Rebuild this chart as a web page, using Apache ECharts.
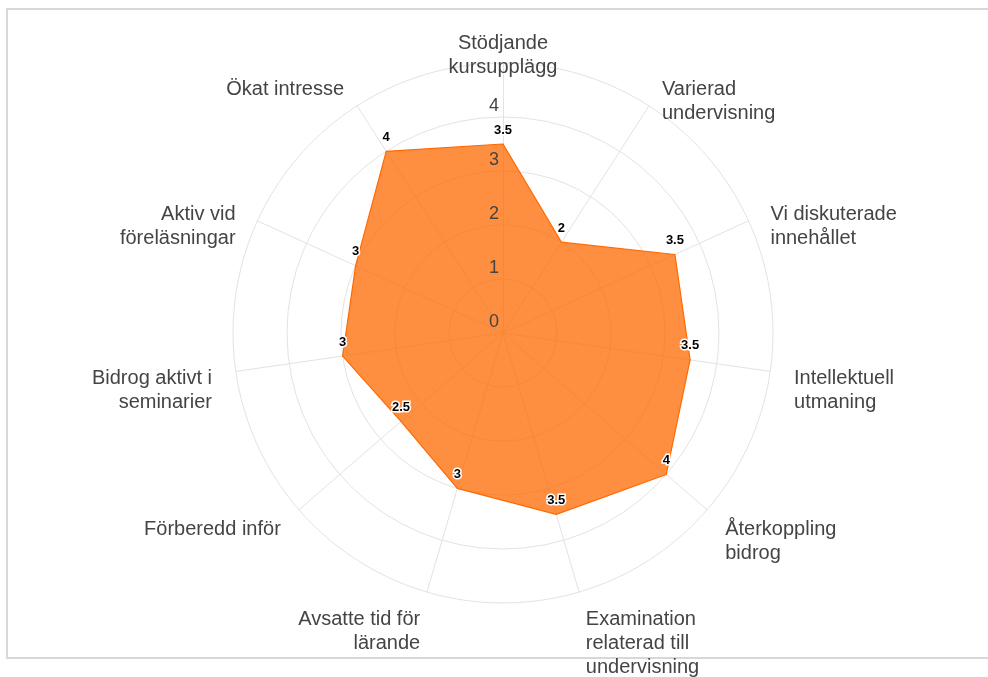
<!DOCTYPE html>
<html><head><meta charset="utf-8">
<script src="https://cdn.jsdelivr.net/npm/echarts@6/dist/echarts.min.js"></script>
<style>html,body{margin:0;padding:0;background:#fff}#c{width:988px;height:677px}</style>
</head><body><div id="c"></div>
<script>
const categories = [
  'Stödjande\nkursupplägg',
  'Varierad\nundervisning',
  'Vi diskuterade\ninnehållet',
  'Intellektuell\nutmaning',
  'Återkoppling\nbidrog',
  'Examination\nrelaterad till\nundervisning',
  'Avsatte tid för\nlärande',
  'Förberedd inför',
  'Bidrog aktivt i\nseminarier',
  'Aktiv vid\nföreläsningar',
  'Ökat intresse'
];
const values = [3.5, 2, 3.5, 3.5, 4, 3.5, 3, 2.5, 3, 3, 4];
const axisMin = 0;
const axisMax = 5;

const n = categories.length;
// ECharts places radar indicators counter-clockwise; reorder for clockwise layout
const order = [0].concat(Array.from({length: n - 1}, (_, i) => n - 1 - i));
const FONT = "'Liberation Sans', Arial, Helvetica, sans-serif";
const CENTER = [503, 333];
const RADIUS = 270;

const indicator = order.map(i => ({name: categories[i], min: axisMin, max: axisMax}));
const labelIndicator = order.map(i => {
  const o = {name: '', min: axisMin, max: axisMax};
  if (i === 0) o.axisLabel = {
    show: true, fontSize: 18, color: '#444', fontFamily: FONT,
    showMaxLabel: false, align: 'right', verticalAlign: 'bottom', margin: 4,
    padding: [0, 0, 2, 0]
  };
  return o;
});

// first line of each name centred (slightly below) the anchor point
function nameFormatter(name) {
  const k = name.split('\n').length;
  return '{g| }\n' + '\n'.repeat(k - 1) + name;
}

const chart = echarts.init(document.getElementById('c'), null, {renderer: 'canvas'});
chart.setOption({
  animation: false,
  backgroundColor: '#fff',
  graphic: [{
    type: 'rect', silent: true,
    shape: {x: 7, y: 9, width: 1000, height: 649},
    style: {fill: 'none', stroke: '#d8d8d8', lineWidth: 2}
  }],
  radar: [{
    center: CENTER,
    radius: RADIUS,
    shape: 'circle',
    splitNumber: 5,
    nameGap: 24,
    axisName: {
      color: '#444', fontSize: 20, lineHeight: 24, fontFamily: FONT, verticalAlign: 'middle',
      formatter: nameFormatter,
      rich: {g: {fontSize: 1, lineHeight: 8}}
    },
    axisLine: {lineStyle: {color: '#e3e3e3', width: 1}},
    splitLine: {lineStyle: {color: '#e3e3e3', width: 1}},
    splitArea: {show: false},
    axisTick: {show: false},
    axisLabel: {show: false},
    indicator: indicator
  }, {
    z: 10,
    center: CENTER,
    radius: RADIUS,
    shape: 'circle',
    splitNumber: 5,
    axisName: {show: false},
    axisLine: {show: false},
    splitLine: {show: false},
    splitArea: {show: false},
    axisTick: {show: false},
    axisLabel: {show: false},
    indicator: labelIndicator
  }],
  series: [{
    type: 'radar',
    radarIndex: 0,
    symbol: 'circle',
    symbolSize: 1,
    itemStyle: {color: '#ff6a00'},
    lineStyle: {color: '#ff6a00', width: 1.2},
    areaStyle: {color: '#ff6a00', opacity: 0.75},
    label: {
      show: true, position: 'top', distance: 7,
      fontSize: 13, fontWeight: 'bold', color: '#000', fontFamily: FONT,
      textBorderColor: '#fff', textBorderWidth: 3
    },
    data: [{value: order.map(i => values[i])}]
  }]
});
</script></body></html>
